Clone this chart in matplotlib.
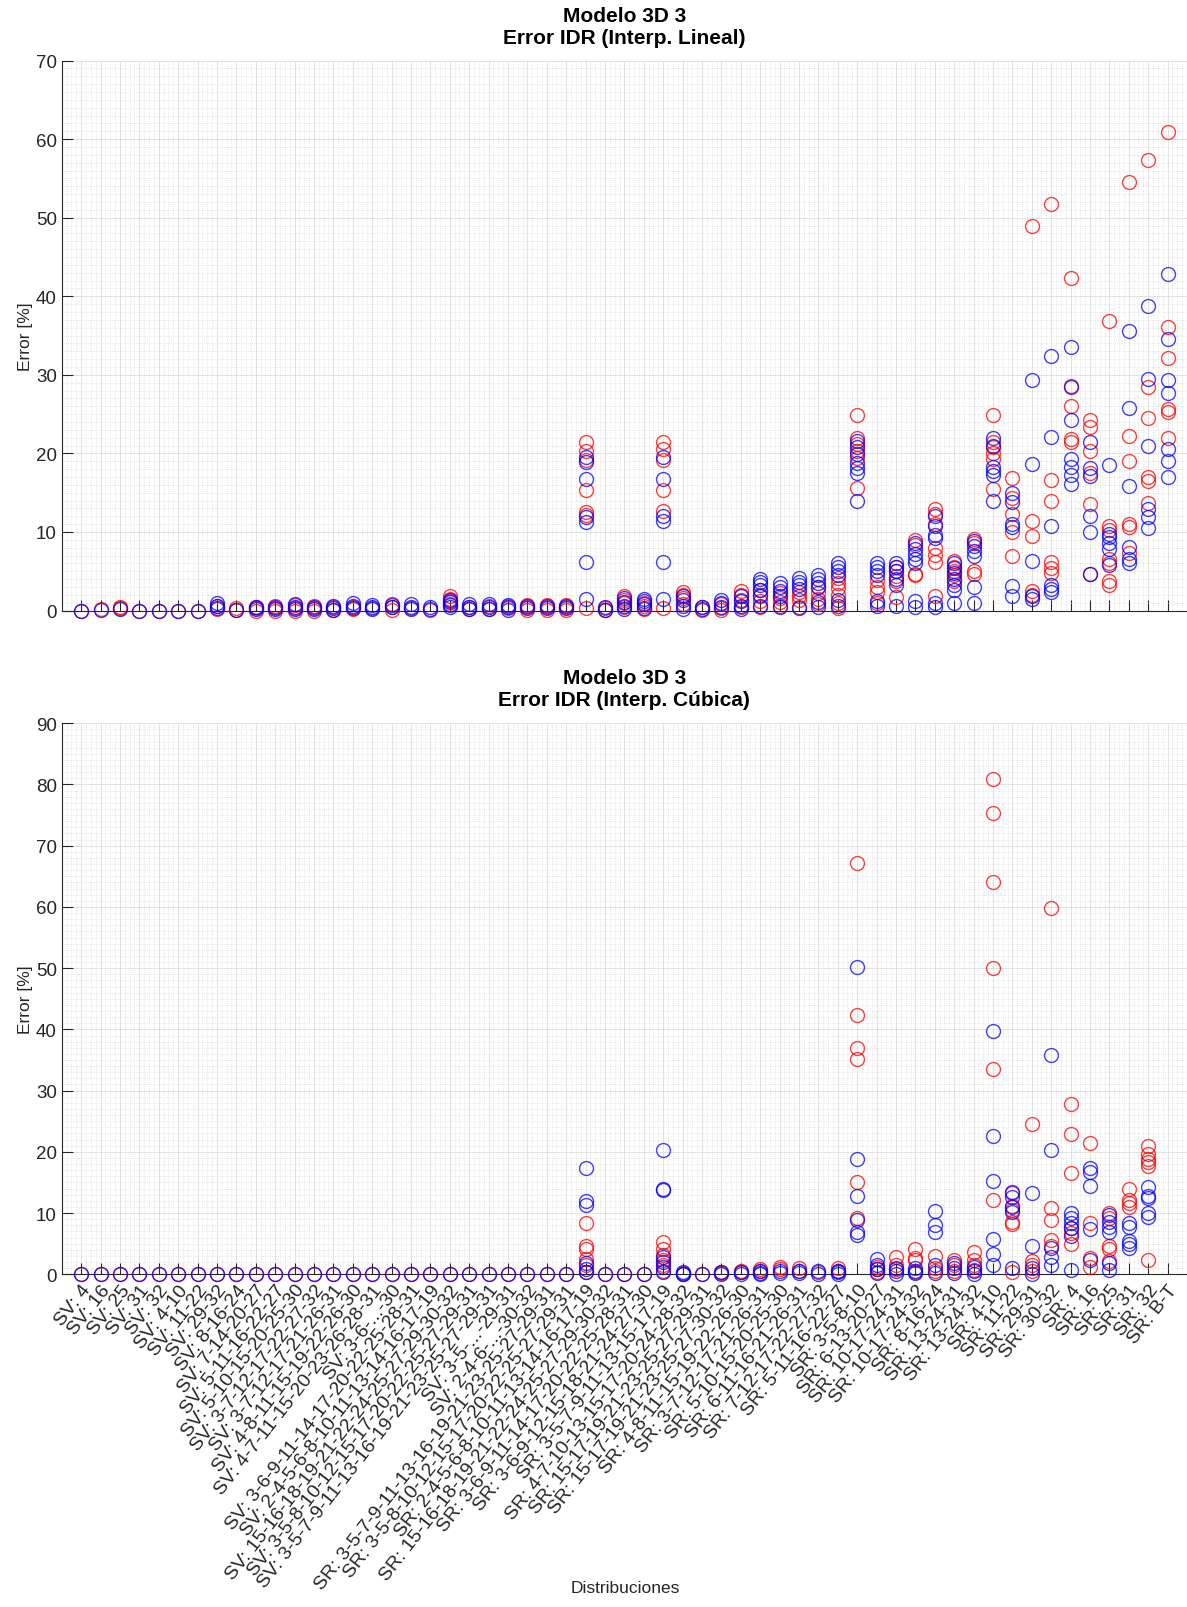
import numpy as np
import matplotlib
matplotlib.use("Agg")
import matplotlib.pyplot as plt
from matplotlib.ticker import MultipleLocator

plt.rcParams['font.family'] = ['Liberation Sans', 'DejaVu Sans']

# Etiquetas del eje x (distribuciones)
etiquetas = [
    "SV: 4", "SV: 16", "SV: 25", "SV: 31", "SV: 32",
    "SV: 4-10", "SV: 11-22", "SV: 29-32",
    "SV: 8-16-24", "SV: 7-14-20-27", "SV: 5-11-16-22-27", "SV: 5-10-15-20-25-30",
    "SV: 3-7-12-17-22-27-32", "SV: 3-7-12-17-21-26-31", "SV: 4-8-11-15-19-22-26-30",
    "SV: 4-7-11-15-20-23-26-28-31", "SV: 3-6-...-30", "SV: 3-6-9-11-14-17-20-22-25-28-31",
    "SV: 2-4-5-6-8-10-11-13-14-16-17-19", "SV: 15-16-18-19-21-22-24-25-27-29-30-32",
    "SV: 3-5-8-10-12-15-17-20-22-25-27-29-31", "SV: 3-5-7-9-11-13-16-19-21-23-25-27-29-31",
    "SV: 3-5-...-29-31", "SV: 2-4-6-...-30-32",
    "SR: 3-5-7-9-11-13-16-19-21-23-25-27-29-31", "SR: 3-5-8-10-12-15-17-20-22-25-27-29-31",
    "SR: 2-4-5-6-8-10-11-13-14-16-17-19", "SR: 15-16-18-19-21-22-24-25-27-29-30-32",
    "SR: 3-6-9-11-14-17-20-22-25-28-31", "SR: 3-6-9-12-15-18-21-24-27-30",
    "SR: 3-5-7-9-11-13-15-17-19", "SR: 4-7-10-13-15-17-20-24-28-32",
    "SR: 15-17-19-21-23-25-27-29-31", "SR: 15-17-19-21-23-25-27-30-32",
    "SR: 4-8-11-15-19-22-26-30", "SR: 3-7-12-17-21-26-31", "SR: 5-10-15-20-25-30",
    "SR: 6-11-16-21-26-31", "SR: 7-12-17-22-27-32", "SR: 5-11-16-22-27",
    "SR: 3-5-8-10", "SR: 6-13-20-27", "SR: 10-17-24-31", "SR: 10-17-24-32",
    "SR: 8-16-24", "SR: 13-24-31", "SR: 13-24-32",
    "SR: 4-10", "SR: 11-22", "SR: 29-31", "SR: 30-32",
    "SR: 4", "SR: 16", "SR: 25", "SR: 31", "SR: 32", "SR: B-T",
]

# Error IDR, interpolacion lineal (rojo / azul), una lista por distribucion
rojo_lineal = [
    [0.0], [0.25], [0.5, 0.3], [0.0], [0.0], [0.0], [0.0], [0.6, 0.2],
    [0.3, 0.1], [0.5, 0.3, 0.0], [0.6, 0.3, 0.0], [0.7, 0.3, 0.0],
    [0.6, 0.3, 0.0], [0.4, 0.1], [0.5, 0.2], [0.3], [0.8, 0.5, 0.1], [0.3],
    [0.1], [1.8, 1.5, 1.2, 0.8], [0.5, 0.2], [0.6, 0.2], [0.6, 0.3],
    [0.7, 0.4, 0.1], [0.7, 0.4, 0.1], [0.7, 0.4, 0.1],
    [21.4, 20.3, 19.2, 15.4, 12.6, 12.2, 0.3],
    [0.3, 0.1], [1.9, 1.4, 0.9, 0.4], [1.0, 0.6, 0.2],
    [21.4, 20.5, 19.2, 15.4, 12.7, 0.3],
    [2.4, 2.0, 1.6, 0.8], [0.4, 0.1], [0.8, 0.3, 0.1], [2.5, 2.0, 1.3, 0.5],
    [2.6, 2.0, 1.2, 0.4], [2.2, 1.6, 1.1, 0.6], [2.4, 1.9, 1.3, 0.5],
    [3.0, 2.2, 1.5, 0.8], [4.2, 3.5, 2.9, 2.0, 1.0, 0.3],
    [24.9, 21.9, 21.2, 20.3, 19.4, 15.6],
    [3.9, 3.0, 2.4, 1.0], [5.5, 5.0, 4.4, 3.8, 1.7], [9.0, 8.4, 4.7, 4.5],
    [12.9, 12.3, 11.0, 8.0, 7.1, 6.2, 1.9], [6.3, 5.6, 5.0, 4.5, 3.8],
    [9.1, 8.6, 5.0, 4.6],
    [24.9, 21.5, 20.8, 20.0, 19.3, 15.5],
    [16.9, 14.3, 12.3, 10.0, 7.0],
    [48.9, 11.4, 9.5, 2.5, 2.0],
    [51.8, 16.6, 14.0, 6.2, 5.4, 4.8],
    [42.3, 28.6, 26.0, 21.8, 21.5],
    [24.3, 23.4, 20.3, 17.5, 13.6, 4.6],
    [36.9, 10.7, 10.3, 6.5, 6.0, 3.8, 3.3],
    [54.6, 22.2, 19.0, 11.0, 10.6, 7.3],
    [57.4, 28.4, 24.5, 17.0, 16.5, 13.7],
    [60.9, 36.1, 32.2, 25.6, 25.3, 22.0],
]
azul_lineal = [
    [0.0], [0.1], [0.2], [0.0], [0.0], [0.0], [0.0], [0.9, 0.6, 0.3],
    [0.1], [0.4, 0.2], [0.5, 0.2], [0.8, 0.5, 0.2],
    [0.5, 0.2], [0.6, 0.3, 0.1], [0.9, 0.6, 0.3], [0.7, 0.4, 0.2], [0.7, 0.4], [0.8, 0.5, 0.2],
    [0.5, 0.2], [1.4, 1.1, 0.7, 0.4], [0.8, 0.5, 0.2], [0.8, 0.5, 0.2], [0.7, 0.4, 0.1],
    [0.6, 0.3], [0.6, 0.3], [0.6, 0.3],
    [19.6, 18.9, 16.8, 11.9, 11.3, 6.2, 1.5],
    [0.4, 0.1], [1.6, 1.1, 0.6, 0.2], [1.5, 1.2, 0.8, 0.3],
    [19.6, 16.8, 12.0, 11.4, 6.2, 1.5],
    [1.8, 1.3, 0.6, 0.2], [0.5, 0.2], [1.3, 0.9, 0.4], [1.8, 1.2, 0.6, 0.2],
    [4.0, 3.6, 3.2, 2.6, 1.8, 0.6], [3.5, 3.0, 2.5, 1.8, 0.5], [4.1, 3.6, 3.2, 2.7, 0.3],
    [4.5, 4.0, 3.5, 3.0, 1.1, 0.4], [6.1, 5.6, 5.0, 4.5, 1.3, 0.6],
    [21.6, 20.8, 19.9, 18.8, 18.2, 17.5, 14.0],
    [6.0, 5.5, 5.0, 4.5, 1.2, 0.6], [6.1, 5.6, 5.0, 4.0, 3.2, 0.6],
    [8.6, 7.8, 7.2, 6.6, 6.0, 1.2, 0.4], [12.0, 10.8, 9.6, 9.2, 1.0, 0.4],
    [6.0, 5.4, 4.8, 4.0, 3.2, 2.6, 0.9], [8.8, 8.2, 7.6, 7.0, 3.0, 0.9],
    [21.9, 21.0, 18.3, 17.7, 17.2, 13.9],
    [15.0, 13.8, 11.0, 10.6, 3.1, 1.9],
    [29.4, 18.6, 6.3, 1.8, 1.5],
    [32.4, 22.1, 10.8, 3.2, 2.8, 2.4],
    [33.6, 28.4, 24.3, 19.3, 18.3, 17.3, 16.1],
    [21.5, 18.2, 17.1, 12.0, 10.0, 4.7],
    [18.5, 9.8, 9.3, 8.6, 7.8, 5.8],
    [35.6, 25.8, 15.8, 8.1, 6.6, 6.0],
    [38.8, 29.5, 21.0, 12.9, 11.9, 10.5],
    [42.8, 34.6, 29.4, 27.7, 20.5, 19.0, 17.0],
]

# Error IDR, interpolacion cubica
rojo_cubica = [[0.0]] * 26 + [
    [8.4, 4.7, 4.2, 2.5, 1.6, 0.4],
    [0.0], [0.0], [0.0],
    [5.3, 4.1, 3.2, 2.3, 1.5, 0.6],
    [0.2], [0.0], [0.4, 0.2], [0.6, 0.3], [0.8, 0.5], [1.2, 0.8], [1.0, 0.5],
    [0.3], [1.0, 0.6],
    [67.2, 42.3, 36.9, 35.2, 15.1, 9.2],
    [1.2, 0.8, 0.4], [2.8, 1.5, 0.8], [4.2, 2.6, 2.3, 0.4], [3.0, 1.0, 0.5],
    [2.3, 1.5, 0.6], [3.7, 2.3, 1.5, 0.7],
    [80.9, 75.4, 64.1, 50.0, 33.5, 12.2],
    [13.2, 11.2, 10.5, 8.6, 8.2, 0.3],
    [24.5, 2.2, 1.5, 0.5],
    [59.8, 10.8, 8.8, 5.6, 4.6],
    [27.8, 22.9, 16.6, 7.5, 6.8, 5.0],
    [21.4, 8.3, 2.6, 1.2],
    [10.0, 9.2, 4.7, 4.2, 2.1],
    [13.9, 12.1, 11.6, 11.0],
    [21.0, 19.6, 18.9, 18.4, 17.7, 2.4],
    [],
]
azul_cubica = [[0.0]] * 26 + [
    [17.4, 11.9, 11.4, 1.8, 0.9, 0.3],
    [0.0], [0.0], [0.0],
    [20.3, 13.9, 13.7, 2.8, 2.0, 1.2, 0.3],
    [0.3, 0.1, 0.0], [0.0], [0.3, 0.1], [0.4, 0.1], [0.5, 0.2, 0.0], [0.5, 0.2], [0.6, 0.2],
    [0.5, 0.1], [0.6, 0.3, 0.1],
    [50.2, 18.8, 12.8, 8.8, 6.9, 6.5],
    [2.5, 1.6, 0.9, 0.2], [1.0, 0.5, 0.1], [1.0, 0.6, 0.2], [10.3, 8.0, 6.9, 1.5, 0.2],
    [1.9, 1.0, 0.2], [1.2, 0.6, 0.1],
    [39.8, 22.6, 15.2, 5.8, 3.3, 1.5],
    [13.5, 12.6, 11.0, 10.2, 1.0],
    [13.2, 4.6, 1.0, 0.1],
    [35.8, 20.3, 4.3, 2.9, 1.5],
    [10.0, 9.2, 8.3, 7.5, 6.2, 0.7],
    [17.3, 16.7, 14.4, 7.4, 2.3],
    [9.7, 8.5, 7.7, 6.9, 1.8, 0.7],
    [8.4, 7.8, 5.4, 5.0, 4.3],
    [14.3, 12.8, 12.5, 10.0, 9.4],
    [],
]


def aplanar(listas):
    xs, ys = [], []
    for i, vals in enumerate(listas):
        xs += [i + 1] * len(vals)
        ys += list(vals)
    return np.array(xs), np.array(ys)


def dibujar(ax, rojo, azul, ymax, titulo):
    for datos, col in [(rojo, (1, 0, 0)), (azul, (0, 0, 1))]:
        x, y = aplanar(datos)
        ax.plot(x, y, 'o', ms=10, mfc='none', mec=col, mew=1.0, alpha=0.75,
                linestyle='none', clip_on=False, zorder=3)
    ax.set_xlim(0, len(etiquetas) + 1)
    ax.set_ylim(0, ymax)
    ax.set_xticks(np.arange(1, len(etiquetas) + 1))
    ax.yaxis.set_major_locator(MultipleLocator(10))
    ax.xaxis.set_minor_locator(MultipleLocator(0.25))
    ax.yaxis.set_minor_locator(MultipleLocator(1))
    ax.grid(which='major', color='#dedede', linewidth=0.6, zorder=0)
    ax.grid(which='minor', color='#d4d4d4', linewidth=0.5, linestyle=':', zorder=0)
    ax.set_axisbelow(True)
    ax.tick_params(which='major', direction='in', length=8, width=0.8,
                   colors='#262626', labelsize=13.5)
    ax.tick_params(which='minor', length=0)
    for s in ['top', 'right']:
        ax.spines[s].set_visible(False)
    for s in ['left', 'bottom']:
        ax.spines[s].set_color('#262626')
        ax.spines[s].set_linewidth(0.8)
    ax.set_ylabel("Error [%]", fontsize=12.5, color='#262626', labelpad=2)
    ax.set_title(titulo, fontsize=15, fontweight='bold', pad=13, linespacing=1.2)


fig = plt.figure(figsize=(11.87, 16.08), dpi=100)
ax1 = fig.add_axes([0.0520, 0.6197, 0.9480, 0.342])
ax2 = fig.add_axes([0.0520, 0.2069, 0.9480, 0.3427])

dibujar(ax1, rojo_lineal, azul_lineal, 70, "Modelo 3D 3\nError IDR (Interp. Lineal)")
ax1.set_xticklabels([])

dibujar(ax2, rojo_cubica, azul_cubica, 90, "Modelo 3D 3\nError IDR (Interp. Cúbica)")
ax2.set_xticklabels(etiquetas, rotation=52, ha='right', va='top',
                    rotation_mode='anchor', fontsize=14)
ax2.tick_params(axis='x', pad=5)
fig.text(0.527, 0.0075, "Distribuciones", ha='center', va='bottom',
         fontsize=12.5, color='#262626')

fig.savefig("out.png", dpi=100)
